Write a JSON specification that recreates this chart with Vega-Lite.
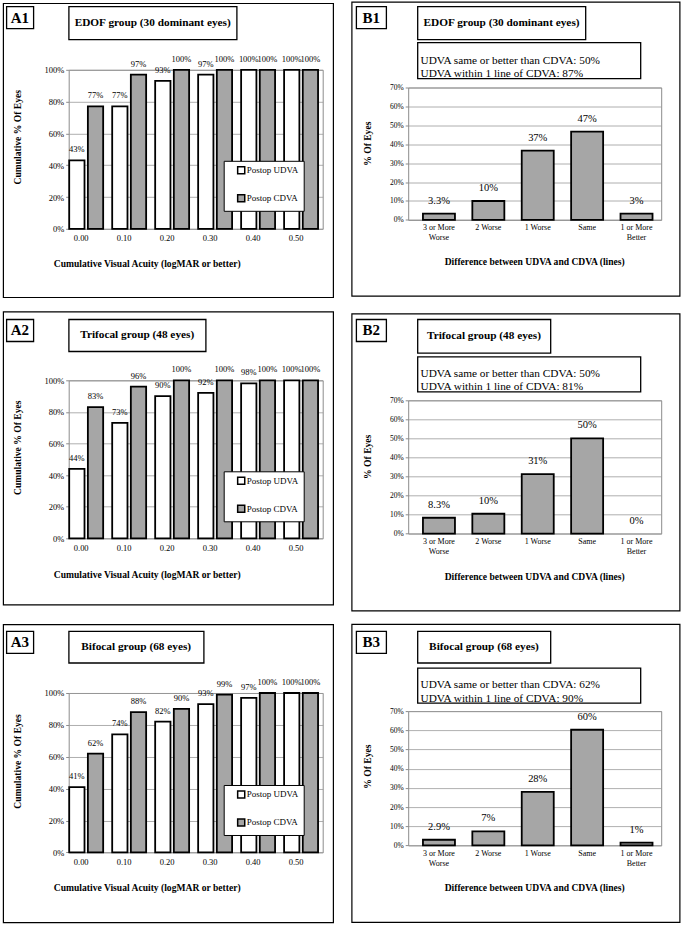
{
  "$schema": "https://vega.github.io/schema/vega-lite/v6.json",
  "background": "white",
  "padding": {"left": 1.4, "top": 0.5, "right": 0, "bottom": 0},
  "spacing": 10.8,
  "resolve": {"scale": {"color": "independent", "xOffset": "independent"}, "legend": {"color": "independent"}},
  "vconcat": [
    {
      "spacing": 14.8,
      "resolve": {"scale": {"color": "independent", "xOffset": "independent"}, "legend": {"color": "independent"}},
      "hconcat": [
        {
          "bounds": "flush",
          "columns": 2,
          "align": "each",
          "spacing": {"row": 30.3, "column": 35.3},
          "resolve": {"scale": {"color": "independent", "xOffset": "independent"}, "legend": {"color": "independent"}},
          "concat": [
            {"width": 27, "height": 22, "view": {"stroke": "black", "strokeWidth": 1.3}, "data": {"values": [{"tag": "A1"}]}, "mark": {"type": "text", "fontWeight": "bold", "fontSize": 15}, "encoding": {"text": {"field": "tag", "type": "nominal"}}},
            {"width": 168, "height": 33, "view": {"stroke": "black", "strokeWidth": 1.3}, "data": {"values": [{"tag": "EDOF group (30 dominant eyes)"}]}, "mark": {"type": "text", "fontWeight": "bold", "fontSize": 11.3}, "encoding": {"text": {"field": "tag", "type": "nominal"}}},
            {"width": 25, "height": 1, "data": {"values": []}, "mark": "text", "encoding": {"text": {"value": ""}}},
            {
              "width": 254,
              "height": 159,
              "view": {"stroke": "#8c8c8c"},
              "data": {"values": [
                {"va": "0.00", "series": "Postop UDVA", "pct": 0.43},
                {"va": "0.00", "series": "Postop CDVA", "pct": 0.77},
                {"va": "0.10", "series": "Postop UDVA", "pct": 0.77},
                {"va": "0.10", "series": "Postop CDVA", "pct": 0.97},
                {"va": "0.20", "series": "Postop UDVA", "pct": 0.93},
                {"va": "0.20", "series": "Postop CDVA", "pct": 1.0},
                {"va": "0.30", "series": "Postop UDVA", "pct": 0.97},
                {"va": "0.30", "series": "Postop CDVA", "pct": 1.0},
                {"va": "0.40", "series": "Postop UDVA", "pct": 1.0},
                {"va": "0.40", "series": "Postop CDVA", "pct": 1.0},
                {"va": "0.50", "series": "Postop UDVA", "pct": 1.0},
                {"va": "0.50", "series": "Postop CDVA", "pct": 1.0}
              ]},
              "layer": [
                {"data": {"values": [{}]}, "mark": {"type": "rect", "fill": "transparent", "stroke": "black", "strokeWidth": 1.2, "x": 0, "y": 0, "xOffset": 99.7, "yOffset": 80.7, "width": 330, "height": 294}, "encoding": {}},
                {
                  "encoding": {
                    "x": {"field": "va", "type": "nominal", "sort": null, "scale": {"paddingInner": 0.21, "paddingOuter": 0.06, "align": 0.1},
                      "axis": {"labelAngle": 0, "ticks": false, "labelFontSize": 8.5, "labelPadding": 5, "labelOffset": -5, "title": "Cumulative Visual Acuity (logMAR or better)", "titleFontSize": 9.6, "titleFontWeight": "bold", "titleX": 78, "titleY": 35, "titleBaseline": "middle", "titleAlign": "center"}},
                    "xOffset": {"field": "series", "type": "nominal", "sort": ["Postop UDVA", "Postop CDVA"], "scale": {"paddingInner": 0.18, "paddingOuter": 0}},
                    "y": {"field": "pct", "type": "quantitative", "scale": {"domain": [0, 1], "nice": false},
                      "axis": {"values": [0, 0.2, 0.4, 0.6, 0.8, 1], "format": ".0%", "grid": true, "tickSize": 3, "labelFontSize": 8.5, "labelPadding": 2, "title": "Cumulative % Of Eyes", "titleFontSize": 9.6, "titleFontWeight": "bold", "titleX": -51, "titleY": 67, "titleBaseline": "middle", "titleAlign": "center"}}
                  },
                  "layer": [
                    {"mark": {"type": "bar", "stroke": "black", "strokeWidth": 1.8},
                      "encoding": {"color": {"field": "series", "type": "nominal", "scale": {"domain": ["Postop UDVA", "Postop CDVA"], "range": ["white", "#a6a6a6"]},
                        "legend": {"orient": "none", "legendX": 155, "legendY": 91, "direction": "vertical", "title": null, "strokeColor": "black", "fillColor": "white", "padding": 5, "symbolType": "square", "symbolSize": 50, "symbolStrokeColor": "black", "symbolStrokeWidth": 1.5, "symbolOffset": 8, "labelOffset": 1, "labelFontSize": 9, "rowPadding": 13}}}},
                    {"mark": {"type": "text", "fontSize": 8.5, "baseline": "middle", "dy": -11}, "encoding": {"text": {"field": "pct", "type": "quantitative", "format": ".0%"}}}
                  ]
                }
              ]
            }
          ]
        },
        {
          "bounds": "flush",
          "columns": 2,
          "align": "each",
          "spacing": {"row": 3, "column": 0},
          "resolve": {"scale": {"color": "independent", "xOffset": "independent"}, "legend": {"color": "independent"}},
          "concat": [
            {
              "bounds": "flush",
              "spacing": 31.3,
              "hconcat": [
                {"width": 30, "height": 22, "view": {"stroke": "black", "strokeWidth": 1.3}, "data": {"values": [{"tag": "B1"}]}, "mark": {"type": "text", "fontWeight": "bold", "fontSize": 15}, "encoding": {"text": {"field": "tag", "type": "nominal"}}},
                {
                  "bounds": "flush",
                  "spacing": 3,
                  "vconcat": [
                    {"width": 168, "height": 33, "view": {"stroke": "black", "strokeWidth": 1.3}, "data": {"values": [{"tag": "EDOF group (30 dominant eyes)"}]}, "mark": {"type": "text", "fontWeight": "bold", "fontSize": 11.3}, "encoding": {"text": {"field": "tag", "type": "nominal"}}},
                    {"width": 223, "height": 36, "view": {"stroke": "black", "strokeWidth": 1.3}, "data": {"values": [{"lines": ["UDVA same or better than CDVA: 50%", "UDVA within 1 line of CDVA: 87%"]}]}, "mark": {"type": "text", "fontSize": 11.3, "align": "left", "dx": -108.5, "lineHeight": 13.3}, "encoding": {"text": {"field": "lines", "type": "nominal"}}}
                  ]
                }
              ]
            },
            {"width": 1, "height": 78, "data": {"values": []}, "mark": "text", "encoding": {"text": {"value": ""}}},
            {
              "bounds": "flush",
              "spacing": 0,
              "resolve": {"scale": {"color": "independent", "xOffset": "independent"}, "legend": {"color": "independent"}},
              "hconcat": [
                {"width": 51.3, "height": 1, "data": {"values": []}, "mark": "text", "encoding": {"text": {"value": ""}}},
                {
                  "width": 253,
                  "height": 132.4,
                  "view": {"stroke": "#8c8c8c"},
                  "data": {"values": [
                    {"diff": "3 or More Worse", "pct": 0.0333, "label": "3.3%"},
                    {"diff": "2 Worse", "pct": 0.1, "label": "10%"},
                    {"diff": "1 Worse", "pct": 0.3667, "label": "37%"},
                    {"diff": "Same", "pct": 0.4667, "label": "47%"},
                    {"diff": "1 or More Better", "pct": 0.0333, "label": "3%"}
                  ]},
                  "layer": [
                    {"data": {"values": [{}]}, "mark": {"type": "rect", "fill": "transparent", "stroke": "black", "strokeWidth": 1.2, "x": 0, "y": 0, "xOffset": 107.7, "yOffset": 61.7, "width": 328, "height": 294}, "encoding": {}},
                    {
                      "encoding": {
                        "x": {"field": "diff", "type": "nominal", "sort": null, "scale": {"paddingInner": 0.352, "paddingOuter": 0.237, "align": 0.63},
                          "axis": {"labelAngle": 0, "ticks": false, "labelFontSize": 8, "labelPadding": 4, "labelLineHeight": 10, "labelExpr": "datum.label == '3 or More Worse' ? ['3 or More', 'Worse'] : datum.label == '1 or More Better' ? ['1 or More', 'Better'] : datum.label", "title": "Difference between  UDVA and CDVA (lines)", "titleFontSize": 9.6, "titleFontWeight": "bold", "titleX": 126, "titleY": 42, "titleBaseline": "middle", "titleAlign": "center"}},
                        "y": {"field": "pct", "type": "quantitative", "scale": {"domain": [0, 0.7], "nice": false},
                          "axis": {"values": [0, 0.1, 0.2, 0.3, 0.4, 0.5, 0.6, 0.7], "format": ".0%", "grid": true, "tickSize": 3, "labelFontSize": 7.5, "labelPadding": 2, "title": "% Of Eyes", "titleFontSize": 9.6, "titleFontWeight": "bold", "titleX": -40.3, "titleY": 55.7, "titleBaseline": "middle", "titleAlign": "center"}}
                      },
                      "layer": [
                        {"mark": {"type": "bar", "color": "#a6a6a6", "stroke": "black", "strokeWidth": 1.8}},
                        {"mark": {"type": "text", "fontSize": 10.5, "baseline": "middle", "dy": -13}, "encoding": {"text": {"field": "label", "type": "nominal"}}}
                      ]
                    }
                  ]
                }
              ]
            }
          ]
        }
      ]
    },
    {
      "spacing": 14.8,
      "resolve": {"scale": {"color": "independent", "xOffset": "independent"}, "legend": {"color": "independent"}},
      "hconcat": [
        {
          "bounds": "flush",
          "columns": 2,
          "align": "each",
          "spacing": {"row": 29, "column": 35.3},
          "resolve": {"scale": {"color": "independent", "xOffset": "independent"}, "legend": {"color": "independent"}},
          "concat": [
            {"width": 27, "height": 22, "view": {"stroke": "black", "strokeWidth": 1.3}, "data": {"values": [{"tag": "A2"}]}, "mark": {"type": "text", "fontWeight": "bold", "fontSize": 15}, "encoding": {"text": {"field": "tag", "type": "nominal"}}},
            {"width": 137, "height": 32, "view": {"stroke": "black", "strokeWidth": 1.3}, "data": {"values": [{"tag": "Trifocal group (48 eyes)"}]}, "mark": {"type": "text", "fontWeight": "bold", "fontSize": 11.3}, "encoding": {"text": {"field": "tag", "type": "nominal"}}},
            {"width": 25, "height": 1, "data": {"values": []}, "mark": "text", "encoding": {"text": {"value": ""}}},
            {
              "width": 254,
              "height": 158,
              "view": {"stroke": "#8c8c8c"},
              "data": {"values": [
                {"va": "0.00", "series": "Postop UDVA", "pct": 0.44},
                {"va": "0.00", "series": "Postop CDVA", "pct": 0.83},
                {"va": "0.10", "series": "Postop UDVA", "pct": 0.73},
                {"va": "0.10", "series": "Postop CDVA", "pct": 0.96},
                {"va": "0.20", "series": "Postop UDVA", "pct": 0.9},
                {"va": "0.20", "series": "Postop CDVA", "pct": 1.0},
                {"va": "0.30", "series": "Postop UDVA", "pct": 0.92},
                {"va": "0.30", "series": "Postop CDVA", "pct": 1.0},
                {"va": "0.40", "series": "Postop UDVA", "pct": 0.98},
                {"va": "0.40", "series": "Postop CDVA", "pct": 1.0},
                {"va": "0.50", "series": "Postop UDVA", "pct": 1.0},
                {"va": "0.50", "series": "Postop CDVA", "pct": 1.0}
              ]},
              "layer": [
                {"data": {"values": [{}]}, "mark": {"type": "rect", "fill": "transparent", "stroke": "black", "strokeWidth": 1.2, "x": 0, "y": 0, "xOffset": 99.7, "yOffset": 78, "width": 330, "height": 293}, "encoding": {}},
                {
                  "encoding": {
                    "x": {"field": "va", "type": "nominal", "sort": null, "scale": {"paddingInner": 0.21, "paddingOuter": 0.06, "align": 0.1},
                      "axis": {"labelAngle": 0, "ticks": false, "labelFontSize": 8.5, "labelPadding": 5, "labelOffset": -5, "title": "Cumulative Visual Acuity (logMAR or better)", "titleFontSize": 9.6, "titleFontWeight": "bold", "titleX": 78, "titleY": 36, "titleBaseline": "middle", "titleAlign": "center"}},
                    "xOffset": {"field": "series", "type": "nominal", "sort": ["Postop UDVA", "Postop CDVA"], "scale": {"paddingInner": 0.18, "paddingOuter": 0}},
                    "y": {"field": "pct", "type": "quantitative", "scale": {"domain": [0, 1], "nice": false},
                      "axis": {"values": [0, 0.2, 0.4, 0.6, 0.8, 1], "format": ".0%", "grid": true, "tickSize": 3, "labelFontSize": 8.5, "labelPadding": 2, "title": "Cumulative % Of Eyes", "titleFontSize": 9.6, "titleFontWeight": "bold", "titleX": -51, "titleY": 67, "titleBaseline": "middle", "titleAlign": "center"}}
                  },
                  "layer": [
                    {"mark": {"type": "bar", "stroke": "black", "strokeWidth": 1.8},
                      "encoding": {"color": {"field": "series", "type": "nominal", "scale": {"domain": ["Postop UDVA", "Postop CDVA"], "range": ["white", "#a6a6a6"]},
                        "legend": {"orient": "none", "legendX": 155, "legendY": 91, "direction": "vertical", "title": null, "strokeColor": "black", "fillColor": "white", "padding": 5, "symbolType": "square", "symbolSize": 50, "symbolStrokeColor": "black", "symbolStrokeWidth": 1.5, "symbolOffset": 8, "labelOffset": 1, "labelFontSize": 9, "rowPadding": 13}}}},
                    {"mark": {"type": "text", "fontSize": 8.5, "baseline": "middle", "dy": -11}, "encoding": {"text": {"field": "pct", "type": "quantitative", "format": ".0%"}}}
                  ]
                }
              ]
            }
          ]
        },
        {
          "bounds": "flush",
          "columns": 2,
          "align": "each",
          "spacing": {"row": 3, "column": 0},
          "resolve": {"scale": {"color": "independent", "xOffset": "independent"}, "legend": {"color": "independent"}},
          "concat": [
            {
              "bounds": "flush",
              "spacing": 31.3,
              "hconcat": [
                {"width": 30, "height": 22, "view": {"stroke": "black", "strokeWidth": 1.3}, "data": {"values": [{"tag": "B2"}]}, "mark": {"type": "text", "fontWeight": "bold", "fontSize": 15}, "encoding": {"text": {"field": "tag", "type": "nominal"}}},
                {
                  "bounds": "flush",
                  "spacing": 3.3,
                  "vconcat": [
                    {"width": 133, "height": 33.7, "view": {"stroke": "black", "strokeWidth": 1.3}, "data": {"values": [{"tag": "Trifocal group (48 eyes)"}]}, "mark": {"type": "text", "fontWeight": "bold", "fontSize": 11.3}, "encoding": {"text": {"field": "tag", "type": "nominal"}}},
                    {"width": 223, "height": 35, "view": {"stroke": "black", "strokeWidth": 1.3}, "data": {"values": [{"lines": ["UDVA same or better than CDVA: 50%", "UDVA within 1 line of CDVA: 81%"]}]}, "mark": {"type": "text", "fontSize": 11.3, "align": "left", "dx": -108.5, "lineHeight": 13.3}, "encoding": {"text": {"field": "lines", "type": "nominal"}}}
                  ]
                }
              ]
            },
            {"width": 1, "height": 78, "data": {"values": []}, "mark": "text", "encoding": {"text": {"value": ""}}},
            {
              "bounds": "flush",
              "spacing": 0,
              "resolve": {"scale": {"color": "independent", "xOffset": "independent"}, "legend": {"color": "independent"}},
              "hconcat": [
                {"width": 51.3, "height": 1, "data": {"values": []}, "mark": "text", "encoding": {"text": {"value": ""}}},
                {
                  "width": 253,
                  "height": 133.3,
                  "view": {"stroke": "#8c8c8c"},
                  "data": {"values": [
                    {"diff": "3 or More Worse", "pct": 0.0833, "label": "8.3%"},
                    {"diff": "2 Worse", "pct": 0.1042, "label": "10%"},
                    {"diff": "1 Worse", "pct": 0.3125, "label": "31%"},
                    {"diff": "Same", "pct": 0.5, "label": "50%"},
                    {"diff": "1 or More Better", "pct": 0, "label": "0%"}
                  ]},
                  "layer": [
                    {"data": {"values": [{}]}, "mark": {"type": "rect", "fill": "transparent", "stroke": "black", "strokeWidth": 1.2, "x": 0, "y": 0, "xOffset": 107.7, "yOffset": 62, "width": 328, "height": 297}, "encoding": {}},
                    {
                      "encoding": {
                        "x": {"field": "diff", "type": "nominal", "sort": null, "scale": {"paddingInner": 0.352, "paddingOuter": 0.237, "align": 0.63},
                          "axis": {"labelAngle": 0, "ticks": false, "labelFontSize": 8, "labelPadding": 4, "labelLineHeight": 10, "labelExpr": "datum.label == '3 or More Worse' ? ['3 or More', 'Worse'] : datum.label == '1 or More Better' ? ['1 or More', 'Better'] : datum.label", "title": "Difference between  UDVA and CDVA (lines)", "titleFontSize": 9.6, "titleFontWeight": "bold", "titleX": 126, "titleY": 43, "titleBaseline": "middle", "titleAlign": "center"}},
                        "y": {"field": "pct", "type": "quantitative", "scale": {"domain": [0, 0.7], "nice": false},
                          "axis": {"values": [0, 0.1, 0.2, 0.3, 0.4, 0.5, 0.6, 0.7], "format": ".0%", "grid": true, "tickSize": 3, "labelFontSize": 7.5, "labelPadding": 2, "title": "% Of Eyes", "titleFontSize": 9.6, "titleFontWeight": "bold", "titleX": -40.3, "titleY": 56, "titleBaseline": "middle", "titleAlign": "center"}}
                      },
                      "layer": [
                        {"mark": {"type": "bar", "color": "#a6a6a6", "stroke": "black", "strokeWidth": 1.8},
                          "encoding": {"strokeOpacity": {"condition": {"test": "datum.pct == 0", "value": 0}, "value": 1}}},
                        {"mark": {"type": "text", "fontSize": 10.5, "baseline": "middle", "dy": -13}, "encoding": {"text": {"field": "label", "type": "nominal"}}}
                      ]
                    }
                  ]
                }
              ]
            }
          ]
        }
      ]
    },
    {
      "spacing": 14.8,
      "resolve": {"scale": {"color": "independent", "xOffset": "independent"}, "legend": {"color": "independent"}},
      "hconcat": [
        {
          "bounds": "flush",
          "columns": 2,
          "align": "each",
          "spacing": {"row": 29.9, "column": 35.3},
          "resolve": {"scale": {"color": "independent", "xOffset": "independent"}, "legend": {"color": "independent"}},
          "concat": [
            {"width": 27, "height": 22, "view": {"stroke": "black", "strokeWidth": 1.3}, "data": {"values": [{"tag": "A3"}]}, "mark": {"type": "text", "fontWeight": "bold", "fontSize": 15}, "encoding": {"text": {"field": "tag", "type": "nominal"}}},
            {"width": 135, "height": 31.7, "view": {"stroke": "black", "strokeWidth": 1.3}, "data": {"values": [{"tag": "Bifocal group (68 eyes)"}]}, "mark": {"type": "text", "fontWeight": "bold", "fontSize": 11.3}, "encoding": {"text": {"field": "tag", "type": "nominal"}}},
            {"width": 25, "height": 1, "data": {"values": []}, "mark": "text", "encoding": {"text": {"value": ""}}},
            {
              "width": 254,
              "height": 159.4,
              "view": {"stroke": "#8c8c8c"},
              "data": {"values": [
                {"va": "0.00", "series": "Postop UDVA", "pct": 0.41},
                {"va": "0.00", "series": "Postop CDVA", "pct": 0.62},
                {"va": "0.10", "series": "Postop UDVA", "pct": 0.74},
                {"va": "0.10", "series": "Postop CDVA", "pct": 0.88},
                {"va": "0.20", "series": "Postop UDVA", "pct": 0.82},
                {"va": "0.20", "series": "Postop CDVA", "pct": 0.9},
                {"va": "0.30", "series": "Postop UDVA", "pct": 0.93},
                {"va": "0.30", "series": "Postop CDVA", "pct": 0.99},
                {"va": "0.40", "series": "Postop UDVA", "pct": 0.97},
                {"va": "0.40", "series": "Postop CDVA", "pct": 1.0},
                {"va": "0.50", "series": "Postop UDVA", "pct": 1.0},
                {"va": "0.50", "series": "Postop CDVA", "pct": 1.0}
              ]},
              "layer": [
                {"data": {"values": [{}]}, "mark": {"type": "rect", "fill": "transparent", "stroke": "black", "strokeWidth": 1.2, "x": 0, "y": 0, "xOffset": 99.7, "yOffset": 80.7, "width": 330, "height": 298}, "encoding": {}},
                {
                  "encoding": {
                    "x": {"field": "va", "type": "nominal", "sort": null, "scale": {"paddingInner": 0.21, "paddingOuter": 0.06, "align": 0.1},
                      "axis": {"labelAngle": 0, "ticks": false, "labelFontSize": 8.5, "labelPadding": 5, "labelOffset": -5, "title": "Cumulative Visual Acuity (logMAR or better)", "titleFontSize": 9.6, "titleFontWeight": "bold", "titleX": 78, "titleY": 35.5, "titleBaseline": "middle", "titleAlign": "center"}},
                    "xOffset": {"field": "series", "type": "nominal", "sort": ["Postop UDVA", "Postop CDVA"], "scale": {"paddingInner": 0.18, "paddingOuter": 0}},
                    "y": {"field": "pct", "type": "quantitative", "scale": {"domain": [0, 1], "nice": false},
                      "axis": {"values": [0, 0.2, 0.4, 0.6, 0.8, 1], "format": ".0%", "grid": true, "tickSize": 3, "labelFontSize": 8.5, "labelPadding": 2, "title": "Cumulative % Of Eyes", "titleFontSize": 9.6, "titleFontWeight": "bold", "titleX": -51, "titleY": 68, "titleBaseline": "middle", "titleAlign": "center"}}
                  },
                  "layer": [
                    {"mark": {"type": "bar", "stroke": "black", "strokeWidth": 1.8},
                      "encoding": {"color": {"field": "series", "type": "nominal", "scale": {"domain": ["Postop UDVA", "Postop CDVA"], "range": ["white", "#a6a6a6"]},
                        "legend": {"orient": "none", "legendX": 155, "legendY": 92, "direction": "vertical", "title": null, "strokeColor": "black", "fillColor": "white", "padding": 5, "symbolType": "square", "symbolSize": 50, "symbolStrokeColor": "black", "symbolStrokeWidth": 1.5, "symbolOffset": 8, "labelOffset": 1, "labelFontSize": 9, "rowPadding": 13}}}},
                    {"mark": {"type": "text", "fontSize": 8.5, "baseline": "middle", "dy": -11}, "encoding": {"text": {"field": "pct", "type": "quantitative", "format": ".0%"}}}
                  ]
                }
              ]
            }
          ]
        },
        {
          "bounds": "flush",
          "columns": 2,
          "align": "each",
          "spacing": {"row": 3, "column": 0},
          "resolve": {"scale": {"color": "independent", "xOffset": "independent"}, "legend": {"color": "independent"}},
          "concat": [
            {
              "bounds": "flush",
              "spacing": 31.3,
              "hconcat": [
                {"width": 30, "height": 22, "view": {"stroke": "black", "strokeWidth": 1.3}, "data": {"values": [{"tag": "B3"}]}, "mark": {"type": "text", "fontWeight": "bold", "fontSize": 15}, "encoding": {"text": {"field": "tag", "type": "nominal"}}},
                {
                  "bounds": "flush",
                  "spacing": 4.9,
                  "vconcat": [
                    {"width": 133, "height": 31.7, "view": {"stroke": "black", "strokeWidth": 1.3}, "data": {"values": [{"tag": "Bifocal group (68 eyes)"}]}, "mark": {"type": "text", "fontWeight": "bold", "fontSize": 11.3}, "encoding": {"text": {"field": "tag", "type": "nominal"}}},
                    {"width": 223, "height": 35, "view": {"stroke": "black", "strokeWidth": 1.3}, "data": {"values": [{"lines": ["UDVA same or better than CDVA: 62%", "UDVA within 1 line of CDVA: 90%"]}]}, "mark": {"type": "text", "fontSize": 11.3, "align": "left", "dx": -108.5, "lineHeight": 13.3}, "encoding": {"text": {"field": "lines", "type": "nominal"}}}
                  ]
                }
              ]
            },
            {"width": 1, "height": 77, "data": {"values": []}, "mark": "text", "encoding": {"text": {"value": ""}}},
            {
              "bounds": "flush",
              "spacing": 0,
              "resolve": {"scale": {"color": "independent", "xOffset": "independent"}, "legend": {"color": "independent"}},
              "hconcat": [
                {"width": 51.3, "height": 1, "data": {"values": []}, "mark": "text", "encoding": {"text": {"value": ""}}},
                {
                  "width": 253,
                  "height": 134.3,
                  "view": {"stroke": "#8c8c8c"},
                  "data": {"values": [
                    {"diff": "3 or More Worse", "pct": 0.0294, "label": "2.9%"},
                    {"diff": "2 Worse", "pct": 0.0735, "label": "7%"},
                    {"diff": "1 Worse", "pct": 0.2794, "label": "28%"},
                    {"diff": "Same", "pct": 0.6029, "label": "60%"},
                    {"diff": "1 or More Better", "pct": 0.0147, "label": "1%"}
                  ]},
                  "layer": [
                    {"data": {"values": [{}]}, "mark": {"type": "rect", "fill": "transparent", "stroke": "black", "strokeWidth": 1.2, "x": 0, "y": 0, "xOffset": 107.7, "yOffset": 62.3, "width": 328, "height": 298}, "encoding": {}},
                    {
                      "encoding": {
                        "x": {"field": "diff", "type": "nominal", "sort": null, "scale": {"paddingInner": 0.352, "paddingOuter": 0.237, "align": 0.63},
                          "axis": {"labelAngle": 0, "ticks": false, "labelFontSize": 8, "labelPadding": 4, "labelLineHeight": 10, "labelExpr": "datum.label == '3 or More Worse' ? ['3 or More', 'Worse'] : datum.label == '1 or More Better' ? ['1 or More', 'Better'] : datum.label", "title": "Difference between  UDVA and CDVA (lines)", "titleFontSize": 9.6, "titleFontWeight": "bold", "titleX": 126, "titleY": 42, "titleBaseline": "middle", "titleAlign": "center"}},
                        "y": {"field": "pct", "type": "quantitative", "scale": {"domain": [0, 0.7], "nice": false},
                          "axis": {"values": [0, 0.1, 0.2, 0.3, 0.4, 0.5, 0.6, 0.7], "format": ".0%", "grid": true, "tickSize": 3, "labelFontSize": 7.5, "labelPadding": 2, "title": "% Of Eyes", "titleFontSize": 9.6, "titleFontWeight": "bold", "titleX": -40.3, "titleY": 55, "titleBaseline": "middle", "titleAlign": "center"}}
                      },
                      "layer": [
                        {"mark": {"type": "bar", "color": "#a6a6a6", "stroke": "black", "strokeWidth": 1.8}},
                        {"mark": {"type": "text", "fontSize": 10.5, "baseline": "middle", "dy": -13}, "encoding": {"text": {"field": "label", "type": "nominal"}}}
                      ]
                    }
                  ]
                }
              ]
            }
          ]
        }
      ]
    }
  ],
  "config": {
    "font": "Liberation Serif",
    "view": {"stroke": null},
    "text": {"font": "Liberation Serif", "color": "black"},
    "axis": {"labelFont": "Liberation Serif", "titleFont": "Liberation Serif", "labelColor": "black", "titleColor": "black", "gridColor": "#9a9a9a", "gridWidth": 0.8, "domain": false, "tickColor": "#8c8c8c"},
    "legend": {"labelFont": "Liberation Serif", "labelColor": "black"}
  }
}
